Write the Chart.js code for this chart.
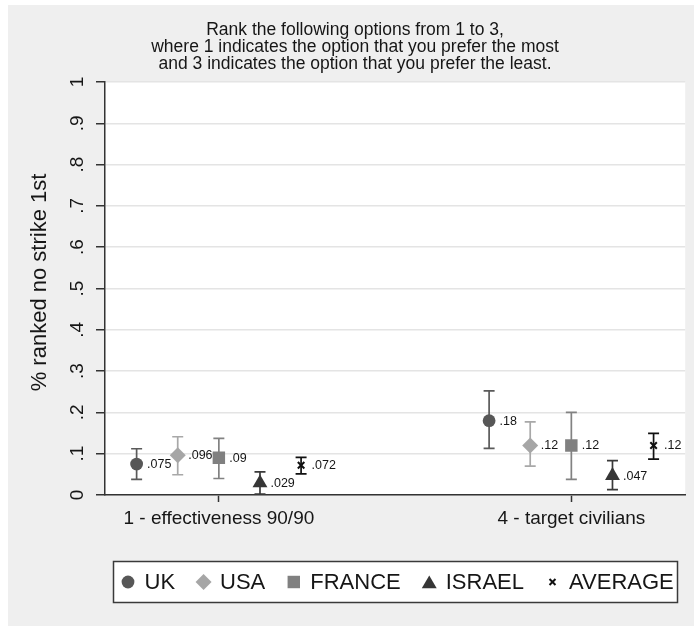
<!DOCTYPE html>
<html>
<head>
<meta charset="utf-8">
<script src="https://cdn.jsdelivr.net/npm/chart.js@4.4.0/dist/chart.umd.min.js"></script>
<style>
  html, body { margin: 0; padding: 0; background: #ffffff; }
  #c { display: block; }
</style>
</head>
<body>
<canvas id="c" width="694" height="626"></canvas>
<script>
// Question wording shown above the plot
const titleLines = [
  'Rank the following options from 1 to 3,',
  'where 1 indicates the option that you prefer the most',
  'and 3 indicates the option that you prefer the least.'
];
const yAxisTitle = '% ranked no strike 1st';

// Option groups on the horizontal axis
const categories = ['1 - effectiveness 90/90', '4 - target civilians'];

// Share ranking "no strike" first, with confidence bounds, per sample
const seriesNames = ['UK', 'USA', 'FRANCE', 'ISRAEL', 'AVERAGE'];
const ukMean      = [0.075, 0.18];
const ukLow       = [0.038, 0.113];
const ukHigh      = [0.112, 0.252];
const usaMean     = [0.096, 0.12];
const usaLow      = [0.049, 0.070];
const usaHigh     = [0.141, 0.177];
const franceMean  = [0.09, 0.12];
const franceLow   = [0.040, 0.038];
const franceHigh  = [0.137, 0.200];
const israelMean  = [0.029, 0.047];
const israelLow   = [0.002, 0.013];
const israelHigh  = [0.056, 0.083];
const averageMean = [0.072, 0.12];
const averageLow  = [0.051, 0.087];
const averageHigh = [0.091, 0.149];

// Y axis ticks
const yTickValues = [0, 0.1, 0.2, 0.3, 0.4, 0.5, 0.6, 0.7, 0.8, 0.9, 1];
const yTickLabels = ['0', '.1', '.2', '.3', '.4', '.5', '.6', '.7', '.8', '.9', '1'];

const means = [ukMean, usaMean, franceMean, israelMean, averageMean];
const lows  = [ukLow, usaLow, franceLow, israelLow, averageLow];
const highs = [ukHigh, usaHigh, franceHigh, israelHigh, averageHigh];

// Marker look for each sample
const styles = [
  { pointStyle: 'circle',   radius: 6.4, fill: '#575757', bar: '#5a5a5a', border: 0 },
  { pointStyle: 'rectRot',  radius: 8.0, fill: '#a6a6a6', bar: '#a8a8a8', border: 0 },
  { pointStyle: 'rect',     radius: 8.8, fill: '#808080', bar: '#828282', border: 0 },
  { pointStyle: 'triangle', radius: 8.6, fill: '#363636', bar: '#3a3a3a', border: 0 },
  { pointStyle: 'crossRot', radius: 4.6, fill: '#111111', bar: '#111111', border: 2 }
];
// horizontal dodge of the samples within one option group
const dodge = [-0.2333, -0.1167, 0, 0.1167, 0.2333];

const FONT = "'Liberation Sans', Arial, Helvetica, sans-serif";
const TEXT = '#161616';
Chart.defaults.font.family = FONT;
Chart.defaults.color = TEXT;

const fmtShare = v => String(v).replace(/^0(?=\.)/, '');

const datasets = seriesNames.map((name, k) => ({
  label: name,
  data: categories.map((c, i) => ({ x: i + 1 + dodge[k], y: means[k][i] })),
  errLow: lows[k],
  errHigh: highs[k],
  showLine: false,
  pointStyle: styles[k].pointStyle,
  pointRadius: styles[k].radius,
  pointHoverRadius: styles[k].radius,
  backgroundColor: styles[k].fill,
  borderColor: styles[k].fill,
  borderWidth: styles[k].border,
  barColor: styles[k].bar
}));

const framePlugin = {
  id: 'frame',
  beforeDraw(chart) {
    const ctx = chart.ctx, a = chart.chartArea;
    ctx.save();
    ctx.fillStyle = '#ffffff';
    ctx.fillRect(0, 0, chart.width, chart.height);
    ctx.fillStyle = '#efefef';
    ctx.fillRect(8, 5, chart.width - 8, chart.height - 5);
    ctx.fillStyle = '#ffffff';
    ctx.fillRect(a.left, a.top, a.right - a.left, a.bottom - a.top);
    ctx.restore();
  }
};

const errorBarPlugin = {
  id: 'errorBars',
  beforeDatasetsDraw(chart) {
    const ctx = chart.ctx, ys = chart.scales.y;
    ctx.save();
    chart.data.datasets.forEach((ds, k) => {
      const meta = chart.getDatasetMeta(k);
      ctx.strokeStyle = ds.barColor;
      ctx.lineWidth = 1.7;
      meta.data.forEach((pt, i) => {
        const x = pt.x;
        const yl = ys.getPixelForValue(ds.errLow[i]);
        const yh = ys.getPixelForValue(ds.errHigh[i]);
        const cap = 5.5;
        ctx.beginPath();
        ctx.moveTo(x, yl); ctx.lineTo(x, yh);
        ctx.moveTo(x - cap, yl); ctx.lineTo(x + cap, yl);
        ctx.moveTo(x - cap, yh); ctx.lineTo(x + cap, yh);
        ctx.stroke();
      });
    });
    ctx.restore();
  },
  afterDatasetsDraw(chart) {
    const ctx = chart.ctx;
    ctx.save();
    ctx.font = '12.5px ' + FONT;
    ctx.fillStyle = TEXT;
    ctx.textAlign = 'left';
    ctx.textBaseline = 'middle';
    chart.data.datasets.forEach((ds, k) => {
      chart.getDatasetMeta(k).data.forEach((pt, i) => {
        ctx.fillText(fmtShare(ds.data[i].y), pt.x + 10.5, pt.y + 0.5);
      });
    });
    ctx.restore();
  }
};

const axisTextPlugin = {
  id: 'axisText',
  afterDraw(chart) {
    const ctx = chart.ctx, ys = chart.scales.y, a = chart.chartArea;
    ctx.save();
    ctx.fillStyle = TEXT;
    ctx.textAlign = 'center';
    ctx.textBaseline = 'alphabetic';
    // rotated tick labels
    ctx.font = '19px ' + FONT;
    yTickValues.forEach((v, i) => {
      ctx.save();
      ctx.translate(83, ys.getPixelForValue(v));
      ctx.rotate(-Math.PI / 2);
      ctx.fillText(yTickLabels[i], 0, 0);
      ctx.restore();
    });
    // axis title
    ctx.font = '22px ' + FONT;
    ctx.save();
    ctx.translate(46, (a.top + a.bottom) / 2 - 6);
    ctx.rotate(-Math.PI / 2);
    ctx.fillText(yAxisTitle, 0, 0);
    ctx.restore();
    ctx.restore();
  }
};

const keyPlugin = {
  id: 'keyBox',
  afterDraw(chart) {
    const ctx = chart.ctx;
    const box = { left: 113, top: 561, right: 678, bottom: 603 };
    ctx.save();
    ctx.fillStyle = '#ffffff';
    ctx.fillRect(box.left, box.top, box.right - box.left, box.bottom - box.top);
    ctx.strokeStyle = '#3a3a3a';
    ctx.lineWidth = 1.5;
    ctx.strokeRect(box.left + 0.5, box.top + 0.5, box.right - box.left - 1, box.bottom - box.top - 1);
    const cy = (box.top + box.bottom) / 2;
    ctx.font = '22px ' + FONT;
    ctx.textAlign = 'left';
    ctx.textBaseline = 'middle';
    let cx = 128;
    chart.data.datasets.forEach((ds, k) => {
      const st = styles[k];
      ctx.fillStyle = st.fill;
      ctx.strokeStyle = st.fill;
      ctx.lineWidth = st.border;
      Chart.helpers.drawPoint(ctx, {
        pointStyle: st.pointStyle,
        radius: st.pointStyle === 'crossRot' ? 4.2 : st.radius,
        borderWidth: st.border,
        rotation: 0
      }, cx, st.pointStyle === 'triangle' ? cy + 2 : cy);
      ctx.fillStyle = TEXT;
      const tx = cx + 16.5;
      ctx.fillText(ds.label, tx, cy + 1);
      cx = tx + ctx.measureText(ds.label).width + 28.5;
    });
    ctx.restore();
  }
};

new Chart(document.getElementById('c'), {
  type: 'scatter',
  data: { datasets },
  plugins: [framePlugin, errorBarPlugin, axisTextPlugin, keyPlugin],
  options: {
    responsive: false,
    animation: false,
    events: [],
    layout: { padding: { left: 24, right: 8, top: 0, bottom: 95 } },
    plugins: {
      legend: { display: false },
      tooltip: { enabled: false },
      title: {
        display: true,
        text: titleLines,
        color: TEXT,
        font: { size: 17.5, weight: 'normal', lineHeight: '17px' },
        padding: { top: 22, bottom: 9 }
      }
    },
    scales: {
      x: {
        type: 'linear',
        position: 'bottom',
        min: 0.677,
        max: 2.323,
        afterBuildTicks: s => { s.ticks = categories.map((c, i) => ({ value: i + 1 })); },
        afterFit: s => { s.height = 36; },
        ticks: {
          callback: v => categories[Math.round(v) - 1] || '',
          autoSkip: false, maxRotation: 0, minRotation: 0,
          padding: 5, color: TEXT, font: { size: 19 }
        },
        grid: { drawOnChartArea: false, drawTicks: true, tickLength: 7, tickColor: '#333333', tickWidth: 1.5 },
        border: { display: true, color: '#333333', width: 1.5 }
      },
      y: {
        type: 'linear',
        min: 0,
        max: 1,
        afterBuildTicks: s => { s.ticks = yTickValues.map(v => ({ value: v })); },
        afterFit: s => { s.width = 81; },
        ticks: { display: false },
        grid: { color: '#e4e4e4', lineWidth: 1.5, drawTicks: true, tickLength: 9, tickColor: '#333333', tickWidth: 1.5 },
        border: { display: true, color: '#333333', width: 1.5 }
      }
    }
  }
});
</script>
</body>
</html>
